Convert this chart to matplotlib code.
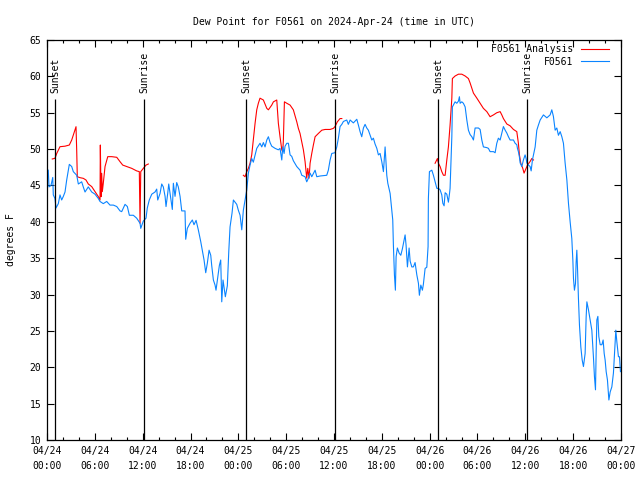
import numpy as np
import matplotlib
matplotlib.use('Agg')
import matplotlib.pyplot as plt
from matplotlib.ticker import MultipleLocator

plt.rcParams['font.family'] = ['DejaVu Sans Mono']
plt.rcParams['font.size'] = 7

# hours since 2024-04-24 00:00 UTC
obs_hours = [
    0.16, 0.25, 0.50, 0.72, 0.79, 1.00, 1.13, 1.42, 1.63, 1.84,
    2.05, 2.26, 2.47, 2.80, 3.10, 3.30, 3.73, 3.93, 4.35, 4.55,
    4.77, 5.18, 5.61, 6.02, 6.44, 6.65, 7.06, 7.49, 7.90, 8.32,
    8.75, 9.16, 9.37, 9.79, 10.08, 10.33, 10.83, 11.25, 11.67, 11.76,
    12.08, 12.42, 12.58, 12.83, 13.14, 13.55, 13.76, 13.89, 14.18, 14.39,
    14.59, 14.81, 14.93, 15.14, 15.27, 15.56, 15.72, 15.85, 16.06, 16.27,
    16.47, 16.69, 16.90, 17.31, 17.40, 17.60, 17.94, 18.23, 18.44, 18.70,
    18.98, 19.28, 19.54, 19.70, 19.91, 20.11, 20.33, 20.54, 20.66, 20.87,
    21.08, 21.20, 21.42, 21.62, 21.79, 21.92, 22.08, 22.25, 22.37, 22.62,
    22.80, 22.96, 23.21, 23.38, 23.59, 23.80, 24.00, 24.22, 24.43, 24.63,
    24.84, 24.97, 25.06, 25.26, 25.47, 25.68, 25.88, 26.10, 26.31, 26.72,
    26.94, 27.14, 27.35, 27.57, 27.77, 27.98, 28.19, 28.61, 29.02, 29.23,
    29.45, 29.57, 29.74, 29.86, 30.08, 30.28, 30.49, 30.70, 30.90, 31.33,
    31.74, 31.96, 32.37, 32.58, 32.79, 33.00, 33.21, 33.63, 33.84, 34.25,
    35.09, 35.29, 35.51, 35.72, 36.13, 36.35, 36.55, 36.76, 36.98, 37.18,
    37.60, 37.80, 38.02, 38.43, 38.86, 39.06, 39.27, 39.48, 39.69, 39.90,
    40.11, 40.31, 40.53, 40.74, 40.94, 41.15, 41.37, 41.57, 41.78, 41.99,
    42.20, 42.41, 42.62, 42.75, 43.04, 43.25, 43.37, 43.45, 43.58, 43.70,
    43.79, 43.95, 44.17, 44.38, 44.58, 44.71, 44.92, 45.04, 45.21, 45.42,
    45.55, 45.76, 45.96, 46.17, 46.39, 46.59, 46.71, 46.89, 47.09, 47.21,
    47.43, 47.64, 47.80, 47.84, 47.97, 48.27, 48.47, 48.68, 48.90, 49.10,
    49.31, 49.52, 49.65, 49.81, 49.94, 50.15, 50.35, 50.48, 50.56, 50.65,
    50.78, 50.85, 51.19, 51.40, 51.61, 51.73, 51.82, 52.03, 52.23, 52.45,
    52.66, 52.86, 53.07, 53.29, 53.49, 53.70, 54.12, 54.33, 54.54, 54.74,
    55.17, 55.37, 55.58, 56.00, 56.21, 56.42, 56.62, 56.84, 57.05, 57.25,
    57.47, 57.68, 57.88, 58.09, 58.51, 58.72, 58.93, 59.01, 59.13, 59.26,
    59.35, 59.56, 59.76, 59.97, 60.10, 60.19, 60.39, 60.60, 60.73, 60.89,
    61.02, 61.23, 61.44, 61.64, 61.86, 62.07, 62.27, 62.48, 62.70, 62.90,
    63.11, 63.32, 63.52, 63.74, 63.95, 64.15, 64.37, 64.58, 64.78, 64.99,
    65.21, 65.41, 65.62, 65.83, 65.96, 66.04, 66.16, 66.29, 66.37, 66.46,
    66.54, 66.66, 66.79, 66.96, 67.13, 67.29, 67.50, 67.63, 67.72, 67.92,
    68.13, 68.34, 68.54, 68.67, 68.80, 68.88, 68.97, 69.10, 69.22, 69.39,
    69.60, 69.76, 69.89, 70.01, 70.14, 70.30, 70.48, 70.64, 70.85, 71.05,
    71.23, 71.35, 71.48, 71.68, 71.81, 71.93,
]
obs_dewpt = [
    47.1, 44.8, 45.0, 46.1, 43.7, 43.2, 41.9, 42.5, 43.7, 43.0,
    43.5, 44.1, 45.75, 47.9, 47.6, 46.9, 46.4, 45.2, 45.5, 44.8,
    44.1, 44.8, 44.1, 43.8, 43.2, 42.8, 42.5, 42.8, 42.3, 42.3,
    42.1, 41.5, 41.4, 42.4, 42.1, 40.9, 40.9, 40.5, 39.8, 39.1,
    40.1, 40.5, 41.9, 43.0, 43.8, 44.1, 44.5, 43.0, 43.9, 45.2,
    44.8, 43.5, 42.1, 43.9, 45.2, 43.0, 41.7, 45.3, 43.5, 45.4,
    44.8, 43.5, 41.5, 41.5, 37.6, 39.1, 39.8, 40.25, 39.6, 40.2,
    38.9, 37.3, 35.7, 34.75, 33.0, 34.3, 36.1, 35.4, 34.0, 32.0,
    31.3, 30.6, 32.4, 34.0, 34.75, 29.0, 32.0, 30.6, 29.7, 31.2,
    35.9, 39.3, 41.2, 43.0, 42.7, 42.4, 41.6, 40.9, 38.9, 41.6,
    43.0, 43.9, 44.4, 46.7, 47.8, 48.7, 48.2, 49.2, 50.1, 50.8,
    50.3, 50.9, 50.3, 51.25, 51.7, 50.9, 50.4, 50.1, 49.9, 50.1,
    48.5, 50.3, 49.4, 50.4, 50.8, 50.8, 49.2, 49.0, 48.4, 47.6,
    47.1, 46.4, 46.2, 45.5, 46.0, 46.7, 46.2, 47.1, 46.2, 46.3,
    46.4, 47.1, 48.5, 49.4, 49.5, 50.3, 51.5, 53.1, 53.4, 53.8,
    54.0, 53.4, 54.0, 53.6, 54.1, 53.3, 52.4, 51.7, 52.9, 53.4,
    52.9, 52.6, 51.9, 51.25, 51.5, 50.7, 50.1, 49.2, 49.4, 48.3,
    46.9, 50.3, 46.4, 45.3, 43.9, 41.5, 40.25, 36.8, 32.7, 30.6,
    35.2, 36.4, 35.7, 35.4, 36.3, 37.05, 38.2, 36.8, 33.8, 36.4,
    34.6, 33.8, 33.8, 34.4, 32.7, 31.55, 29.9, 31.3, 30.6, 31.4,
    33.6, 33.75, 36.6, 43.2, 46.9, 47.1, 46.4, 45.5, 44.6, 44.6,
    44.4, 43.7, 42.55, 42.2, 44.0, 43.8, 42.7, 43.8, 44.6, 47.6,
    51.7, 55.8, 56.5, 56.3, 56.6, 57.2, 56.3, 56.5, 56.3, 55.8,
    54.0, 52.6, 52.0, 51.7, 51.25, 52.9, 52.9, 52.7, 51.25, 50.3,
    50.2, 50.1, 49.65, 49.65, 49.5, 50.8, 51.5, 51.25, 52.2, 53.1,
    52.6, 52.2, 51.7, 51.25, 51.25, 50.8, 50.6, 50.1, 49.65, 48.9,
    48.1, 47.6, 48.5, 49.2, 48.7, 48.1, 47.8, 47.6, 47.0, 48.5,
    49.2, 50.3, 52.6, 53.3, 54.0, 54.35, 54.7, 54.5, 54.3, 54.5,
    54.7, 55.4, 54.5, 52.6, 52.9, 51.9, 52.4, 51.7, 50.8, 48.1,
    45.75, 42.55, 40.0, 37.7, 34.75, 32.2, 30.6, 31.5, 34.4, 36.1,
    33.8, 29.5, 25.8, 22.8, 21.0, 20.1, 21.9, 26.95, 29.0, 27.9,
    26.5, 25.1, 21.45, 18.7, 16.9, 21.9, 26.5, 27.0, 24.2, 23.1,
    23.1, 23.75, 21.9, 21.0, 19.4, 18.25, 15.5, 16.6, 17.3, 19.2,
    22.6, 25.1, 23.5, 21.45, 21.45, 19.4,
]

# analysis series, gaps marked by nan
ana_hours = [
    0.66, 1.00, 1.22, 1.63, 2.26, 2.80, 3.10, 3.30, 3.64, 3.73,
    3.80, 4.14, 4.55, 4.89, 5.18, 5.61, 6.02, 6.44, 6.65, 6.69,
    6.78, 6.86, 6.94, 7.06, 7.28, 7.62, 8.12, 8.75, 9.16, 9.50,
    10.00, 10.63, 11.25, 11.58, 11.67, 11.76, 12.08, 12.42, 12.71,
    np.nan,
    24.63, 24.84, 25.06, 25.26, 25.47, 25.68, 25.88, 26.10, 26.31, 26.51,
    26.72, 27.14, 27.57, 27.77, 28.19, 28.40, 28.82, 29.02, 29.23, 29.45,
    29.57, 29.65, 29.78, 30.08, 30.49, 30.90, 31.33, 31.53, 31.74, 31.96,
    32.16, 32.37, 32.50, 32.58, 32.71, 32.87, 33.00, 33.21, 33.41, 33.63,
    34.04, 34.47, 34.88, 35.51, 35.92, 36.13, 36.42, 36.76, 36.98,
    np.nan,
    48.68, 48.97, 49.10, 49.31, 49.52, 49.73, 49.94, 50.15, 50.35, 50.56,
    50.78, 50.85, 51.19, 51.61, 52.03, 52.45, 52.86, 53.07, 53.49, 53.92,
    54.33, 54.74, 55.17, 55.58, 56.00, 56.42, 56.84, 57.05, 57.25, 57.68,
    58.09, 58.51, 58.93, 59.13, 59.26, 59.43, 59.68, 59.84, 60.10, 60.27,
    60.60, 60.81, 61.02,
]
ana_dewpt = [
    48.64, 48.73, 49.4, 50.33, 50.4, 50.56, 51.25, 51.94, 53.08, 49.65,
    46.2, 46.07, 45.98, 45.75, 45.2, 44.84, 44.15, 43.46, 43.0, 50.56,
    43.46, 46.67, 44.15, 45.3, 47.6, 48.96, 48.96, 48.87, 48.27, 47.8,
    47.6, 47.35, 47.0, 46.9, 39.8, 46.9, 47.35, 47.8, 47.95,
    np.nan,
    46.4, 46.2, 46.9, 47.35, 48.05, 49.2, 51.25, 53.55, 55.4, 56.3,
    57.0, 56.75, 55.6, 55.4, 56.05, 56.5, 56.75, 53.55, 51.7, 49.9,
    49.65, 51.25, 56.5, 56.3, 56.05, 55.4, 53.75, 52.85, 52.15, 51.0,
    49.9, 48.3, 46.9, 46.0, 47.35, 46.0, 48.05, 49.4, 50.55, 51.7,
    52.15, 52.6, 52.7, 52.7, 52.85, 53.1, 53.75, 54.2, 54.2,
    np.nan,
    48.05, 48.7, 48.05, 47.6, 46.9, 46.4, 46.4, 48.5, 50.3, 53.3,
    57.0, 59.7, 60.05, 60.3, 60.3, 60.05, 59.7, 59.1, 57.7, 57.0,
    56.3, 55.6, 55.15, 54.45, 54.7, 55.0, 55.15, 54.7, 54.2, 53.45,
    53.2, 52.7, 52.4, 50.8, 49.2, 48.05, 47.35, 46.7, 47.35, 47.8,
    48.3, 48.7, 48.5,
]

sunset_hours = [1.05, 25.0, 49.1]
sunrise_hours = [12.2, 36.18, 60.27]

tick_hours = list(range(0, 73, 6))
tick_labels = ['04/24\n00:00', '04/24\n06:00', '04/24\n12:00', '04/24\n18:00',
               '04/25\n00:00', '04/25\n06:00', '04/25\n12:00', '04/25\n18:00',
               '04/26\n00:00', '04/26\n06:00', '04/26\n12:00', '04/26\n18:00',
               '04/27\n00:00']

fig = plt.figure(figsize=(6.4, 4.8), dpi=100)
ax = fig.add_axes([47 / 640, 40 / 480, 574 / 640, 400 / 480])

ax.plot(ana_hours, ana_dewpt, color='#ff0000', lw=0.8, label='F0561 Analysis')
ax.plot(obs_hours, obs_dewpt, color='#0a84ff', lw=0.8, label='F0561')

for h in sunset_hours:
    ax.vlines(h, 10, 56.9, color='black', lw=0.9)
    ax.text(h, 57.7, 'Sunset', rotation=90, ha='center', va='bottom')
for h in sunrise_hours:
    ax.vlines(h, 10, 56.9, color='black', lw=0.9)
    ax.text(h, 57.7, 'Sunrise', rotation=90, ha='center', va='bottom')

ax.set_xlim(0, 72)
ax.set_ylim(10, 65)
ax.set_xticks(tick_hours)
ax.set_xticklabels(tick_labels, linespacing=1.65)
ax.xaxis.set_minor_locator(MultipleLocator(2))
ax.yaxis.set_major_locator(MultipleLocator(5))
ax.tick_params(which='both', direction='in', top=True, right=True, width=0.8)
ax.tick_params(which='major', length=5, pad=4)
ax.tick_params(which='minor', length=2.5)
for s in ax.spines.values():
    s.set_linewidth(0.9)

ax.set_title('Dew Point for F0561 on 2024-Apr-24 (time in UTC)', fontsize=7, pad=11)
ax.set_ylabel('degrees F', labelpad=10)

leg = ax.legend(loc='upper right', bbox_to_anchor=(1 - 8 / 574, 1 - 0.5 / 400),
                frameon=False, markerfirst=False,
                handlelength=2.9, handletextpad=0.8, borderaxespad=0.0,
                labelspacing=0.25)

fig.savefig('out.png', dpi=100)
